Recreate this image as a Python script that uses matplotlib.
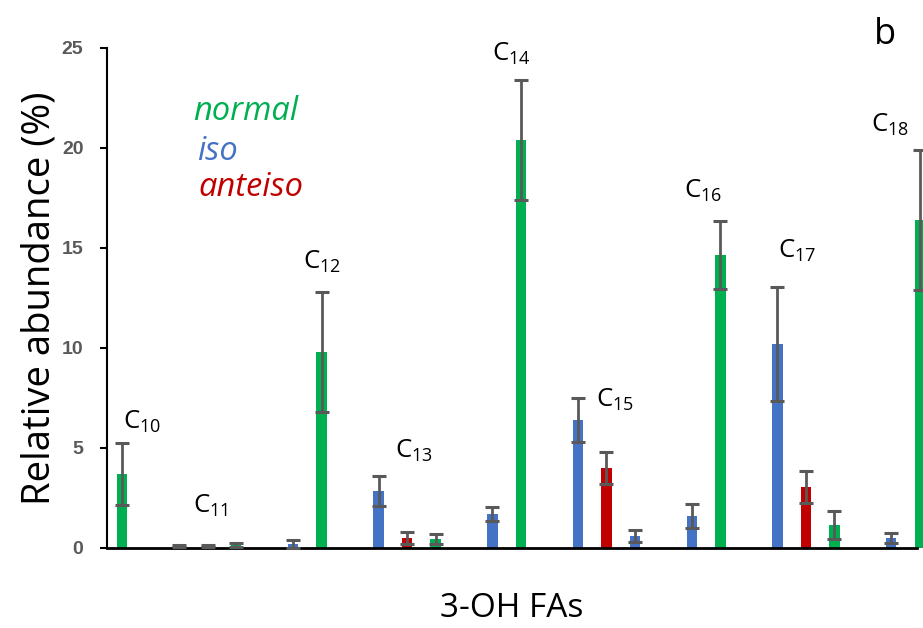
import numpy as np
import matplotlib.pyplot as plt

# one slot per bar, blank slots separate the chain-length groups
slots = [0, 2, 3, 4, 6, 7, 9, 10, 11, 13, 14, 16, 17, 18, 20, 21, 23, 24, 25, 27, 28]
kinds = ['normal', 'iso', 'anteiso', 'normal', 'iso', 'normal',
         'iso', 'anteiso', 'normal', 'iso', 'normal',
         'iso', 'anteiso', 'iso', 'iso', 'normal',
         'iso', 'anteiso', 'normal', 'iso', 'normal']
values = [3.7, 0.1, 0.1, 0.15, 0.2, 9.8,
          2.85, 0.5, 0.45, 1.7, 20.4,
          6.4, 4.0, 0.6, 1.6, 14.65,
          10.2, 3.05, 1.15, 0.5, 16.4]
errors = [1.55, 0.05, 0.05, 0.08, 0.18, 3.0,
          0.75, 0.3, 0.25, 0.37, 3.0,
          1.1, 0.8, 0.3, 0.58, 1.7,
          2.85, 0.8, 0.72, 0.25, 3.5]

# chain-length labels: (subscript, slot, height)
group_labels = [('10', 0.7, 6.3), ('11', 3.12, 2.1), ('12', 7.0, 14.3),
                ('13', 10.26, 4.85), ('14', 13.65, 24.7), ('15', 17.3, 7.4),
                ('16', 20.4, 17.85), ('17', 23.68, 14.85), ('18', 26.95, 21.15)]

palette = {'normal': '#00B050', 'iso': '#4472C4', 'anteiso': '#C00000'}
colors = [palette[k] for k in kinds]

fig = plt.figure(figsize=(9.23, 6.28), dpi=100)
ax = fig.add_axes([107 / 923, 80 / 628, 810 / 923, 500 / 628])

bars = ax.bar(slots, values, width=0.36, color=colors, zorder=2)
for b in bars:
    b.set_clip_on(False)
ax.errorbar(slots, values, yerr=errors, fmt='none', ecolor='#595959',
            elinewidth=2, capsize=5, capthick=2.2, zorder=3, clip_on=False)

ax.set_xlim(-0.53, 27.9)
ax.set_ylim(0, 25)
ax.set_yticks(np.arange(0, 26, 5))
ax.set_xticks([])
ax.tick_params(axis='y', direction='out', length=5, width=1.5, colors='black',
               labelcolor='#595959', labelsize=14, pad=12)
for lab in ax.get_yticklabels():
    lab.set_fontweight('bold')
    lab.set_family('Liberation Sans')

ax.spines['top'].set_visible(False)
ax.spines['right'].set_visible(False)
ax.spines['left'].set_linewidth(1.5)
ax.spines['bottom'].set_linewidth(2)

ax.set_ylabel('Relative abundance (%)', fontsize=27.5, family='Open Sans',
              labelpad=2)
ax.set_xlabel('3-OH FAs', fontsize=24, family='Open Sans', labelpad=32)

for sub, x, y in group_labels:
    ax.text(x, y, r'C$_{\mathregular{' + sub + '}}$', fontsize=18.5,
            family='Open Sans', ha='center', va='center')

ax.text(2.49, 21.8, 'normal', color=palette['normal'], fontsize=23.5,
        style='italic', family='Open Sans', va='center')
ax.text(2.63, 19.8, 'iso', color=palette['iso'], fontsize=23.5,
        style='italic', family='Open Sans', va='center')
ax.text(2.67, 18.0, 'anteiso', color=palette['anteiso'], fontsize=23.5,
        style='italic', family='Open Sans', va='center')

fig.text(885 / 923, 1 - 35 / 628, 'b', fontsize=26, family='Open Sans',
         ha='center', va='center')

fig.savefig('out.png', dpi=100)
